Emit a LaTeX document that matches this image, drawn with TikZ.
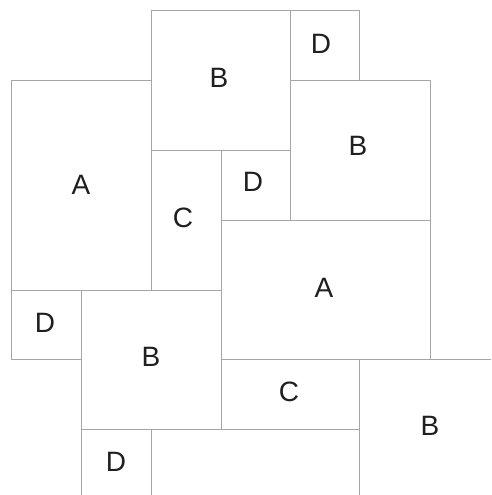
\documentclass[tikz,border=0pt]{standalone}
\usepackage{fontspec}
\setmainfont{Liberation Sans}
\begin{document}
\begin{tikzpicture}[x=1pt,y=-1pt,
  edge/.style={draw=black!35,line width=0.5pt},
  lbl/.style={font=\fontsize{28}{28}\selectfont,text=black!88,inner sep=0pt}]
\useasboundingbox (0,0) rectangle (491,495);
% closed rectangles
\draw[edge] (151,10) rectangle (290,150);
\draw[edge] (290,10) rectangle (359,80);
\draw[edge] (290,80) rectangle (430,220);
\draw[edge] (11,80) rectangle (151,290);
\draw[edge] (151,150) rectangle (221,290);
\draw[edge] (221,150) rectangle (290,220);
\draw[edge] (221,220) rectangle (430,359);
\draw[edge] (11,290) rectangle (81,359);
\draw[edge] (81,290) rectangle (221,429);
\draw[edge] (221,359) rectangle (359,429);
% open edges
\coordinate (r1) at (430,359); \coordinate (r2) at (491,359);
\coordinate (v1) at (359,429); \coordinate (v2) at (359,495);
\coordinate (d1) at (81,429); \coordinate (d2) at (81,495);
\coordinate (d3) at (151,429); \coordinate (d4) at (151,495);
\draw[edge] (r1) -- (r2);
\draw[edge] (v1) -- (v2);
\draw[edge] (d1) -- (d2);
\draw[edge] (d3) -- (d4);
% labels
\node[lbl] (lBtop) at (219,78) {B};
\node[lbl] (lDtop) at (321,44) {D};
\node[lbl] (lBright) at (358,146) {B};
\node[lbl] (lAleft) at (81,185) {A};
\node[lbl] (lC) at (183,218) {C};
\node[lbl] (lDmid) at (253,182) {D};
\node[lbl] (lAright) at (324,288) {A};
\node[lbl] (lDleft) at (45,323) {D};
\node[lbl] (lBlow) at (151,357) {B};
\node[lbl] (lClow) at (289,392) {C};
\node[lbl] (lBbr) at (430,426) {B};
\node[lbl] (lDbot) at (116,462) {D};
\end{tikzpicture}
\end{document}
